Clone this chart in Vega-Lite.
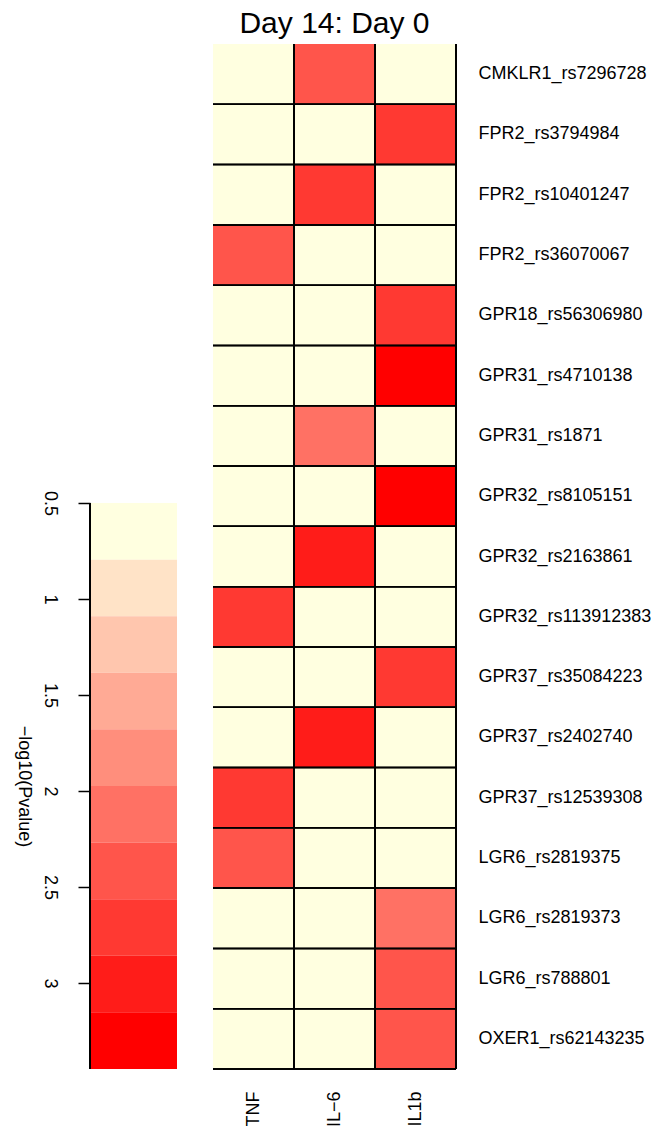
{
  "$schema": "https://vega.github.io/schema/vega-lite/v6.json",
  "padding": {"left": 14, "top": 9, "right": 0, "bottom": 5},
  "config": {"view": {"stroke": null}, "font": "Liberation Sans"},
  "spacing": 36,
  "bounds": "flush",
  "resolve": {"scale": {"color": "independent"}},
  "hconcat": [
    {
      "width": 87,
      "height": 1025,
      "data": {"values": [
        {"lo": 0.5, "hi": 0.795},
        {"lo": 0.795, "hi": 1.09},
        {"lo": 1.09, "hi": 1.384},
        {"lo": 1.384, "hi": 1.679},
        {"lo": 1.679, "hi": 1.974},
        {"lo": 1.974, "hi": 2.269},
        {"lo": 2.269, "hi": 2.564},
        {"lo": 2.564, "hi": 2.858},
        {"lo": 2.858, "hi": 3.153},
        {"lo": 3.153, "hi": 3.448}
      ]},
      "layer": [
        {
          "mark": {"type": "rect"},
          "encoding": {
            "x": {"datum": 0, "type": "quantitative", "scale": {"domain": [0, 1], "nice": false, "zero": false}, "axis": null},
            "x2": {"datum": 1},
            "y": {"field": "lo", "type": "quantitative",
                  "scale": {"domain": [-1.8906, 3.448], "reverse": true, "nice": false, "zero": false},
                  "axis": {"orient": "left", "values": [0.5, 1, 1.5, 2, 2.5, 3], "format": "~g", "domain": false, "grid": false,
                           "ticks": true, "tickSize": 12, "tickColor": "black", "tickWidth": 1.5,
                           "labelAngle": 90, "labelAlign": "center", "labelBaseline": "top", "labelPadding": 20,
                           "labelFontSize": 18, "labelColor": "black",
                           "title": "−log10(Pvalue)", "titleAngle": 90, "titleFontSize": 18, "titleFontWeight": "normal",
                           "titleColor": "black", "titleAlign": "center", "titleBaseline": "middle",
                           "titleX": -67, "titleY": 742}},
            "y2": {"field": "hi"},
            "color": {"field": "lo", "type": "quantitative",
                      "scale": {"type": "threshold", "domain": [0.795, 1.09, 1.384, 1.679, 1.974, 2.269, 2.564, 2.858, 3.153],
                                "range": ["#FFFFE0", "#FFE3C7", "#FFC6AE", "#FFAA95", "#FF8E7C", "#FF7164", "#FF554B", "#FF3932", "#FF1C19", "#FF0000"]},
                      "legend": null}
          }
        },
        {
          "mark": {"type": "rule", "color": "black", "strokeWidth": 1.5},
          "encoding": {
            "x": {"datum": 0, "type": "quantitative"},
            "y": {"datum": 0.5, "type": "quantitative"},
            "y2": {"datum": 3.448}
          }
        }
      ]
    },
    {
      "width": 243,
      "height": 1025,
      "title": {"text": "Day 14: Day 0", "fontSize": 30, "fontWeight": "normal", "color": "black", "offset": 4, "anchor": "middle"},
      "data": {"values": [
        {"snp": "CMKLR1_rs7296728", "cytokine": "TNF", "value": 0.6},
        {"snp": "CMKLR1_rs7296728", "cytokine": "IL−6", "value": 2.42},
        {"snp": "CMKLR1_rs7296728", "cytokine": "IL1b", "value": 0.6},
        {"snp": "FPR2_rs3794984", "cytokine": "TNF", "value": 0.6},
        {"snp": "FPR2_rs3794984", "cytokine": "IL−6", "value": 0.6},
        {"snp": "FPR2_rs3794984", "cytokine": "IL1b", "value": 2.71},
        {"snp": "FPR2_rs10401247", "cytokine": "TNF", "value": 0.6},
        {"snp": "FPR2_rs10401247", "cytokine": "IL−6", "value": 2.71},
        {"snp": "FPR2_rs10401247", "cytokine": "IL1b", "value": 0.6},
        {"snp": "FPR2_rs36070067", "cytokine": "TNF", "value": 2.42},
        {"snp": "FPR2_rs36070067", "cytokine": "IL−6", "value": 0.6},
        {"snp": "FPR2_rs36070067", "cytokine": "IL1b", "value": 0.6},
        {"snp": "GPR18_rs56306980", "cytokine": "TNF", "value": 0.6},
        {"snp": "GPR18_rs56306980", "cytokine": "IL−6", "value": 0.6},
        {"snp": "GPR18_rs56306980", "cytokine": "IL1b", "value": 2.71},
        {"snp": "GPR31_rs4710138", "cytokine": "TNF", "value": 0.6},
        {"snp": "GPR31_rs4710138", "cytokine": "IL−6", "value": 0.6},
        {"snp": "GPR31_rs4710138", "cytokine": "IL1b", "value": 3.3},
        {"snp": "GPR31_rs1871", "cytokine": "TNF", "value": 0.6},
        {"snp": "GPR31_rs1871", "cytokine": "IL−6", "value": 2.12},
        {"snp": "GPR31_rs1871", "cytokine": "IL1b", "value": 0.6},
        {"snp": "GPR32_rs8105151", "cytokine": "TNF", "value": 0.6},
        {"snp": "GPR32_rs8105151", "cytokine": "IL−6", "value": 0.6},
        {"snp": "GPR32_rs8105151", "cytokine": "IL1b", "value": 3.3},
        {"snp": "GPR32_rs2163861", "cytokine": "TNF", "value": 0.6},
        {"snp": "GPR32_rs2163861", "cytokine": "IL−6", "value": 3.0},
        {"snp": "GPR32_rs2163861", "cytokine": "IL1b", "value": 0.6},
        {"snp": "GPR32_rs113912383", "cytokine": "TNF", "value": 2.71},
        {"snp": "GPR32_rs113912383", "cytokine": "IL−6", "value": 0.6},
        {"snp": "GPR32_rs113912383", "cytokine": "IL1b", "value": 0.6},
        {"snp": "GPR37_rs35084223", "cytokine": "TNF", "value": 0.6},
        {"snp": "GPR37_rs35084223", "cytokine": "IL−6", "value": 0.6},
        {"snp": "GPR37_rs35084223", "cytokine": "IL1b", "value": 2.71},
        {"snp": "GPR37_rs2402740", "cytokine": "TNF", "value": 0.6},
        {"snp": "GPR37_rs2402740", "cytokine": "IL−6", "value": 3.0},
        {"snp": "GPR37_rs2402740", "cytokine": "IL1b", "value": 0.6},
        {"snp": "GPR37_rs12539308", "cytokine": "TNF", "value": 2.71},
        {"snp": "GPR37_rs12539308", "cytokine": "IL−6", "value": 0.6},
        {"snp": "GPR37_rs12539308", "cytokine": "IL1b", "value": 0.6},
        {"snp": "LGR6_rs2819375", "cytokine": "TNF", "value": 2.42},
        {"snp": "LGR6_rs2819375", "cytokine": "IL−6", "value": 0.6},
        {"snp": "LGR6_rs2819375", "cytokine": "IL1b", "value": 0.6},
        {"snp": "LGR6_rs2819373", "cytokine": "TNF", "value": 0.6},
        {"snp": "LGR6_rs2819373", "cytokine": "IL−6", "value": 0.6},
        {"snp": "LGR6_rs2819373", "cytokine": "IL1b", "value": 2.12},
        {"snp": "LGR6_rs788801", "cytokine": "TNF", "value": 0.6},
        {"snp": "LGR6_rs788801", "cytokine": "IL−6", "value": 0.6},
        {"snp": "LGR6_rs788801", "cytokine": "IL1b", "value": 2.42},
        {"snp": "OXER1_rs62143235", "cytokine": "TNF", "value": 0.6},
        {"snp": "OXER1_rs62143235", "cytokine": "IL−6", "value": 0.6},
        {"snp": "OXER1_rs62143235", "cytokine": "IL1b", "value": 2.42}
      ]},
      "layer": [
        {
          "mark": {"type": "rect"},
          "encoding": {
            "x": {"field": "cytokine", "type": "nominal",
                  "scale": {"domain": ["TNF", "IL−6", "IL1b"], "paddingInner": 0, "paddingOuter": 0},
                  "axis": {"orient": "bottom", "title": null, "domain": false, "ticks": false, "labelAngle": 270,
                           "labelPadding": 22, "labelFontSize": 18, "labelColor": "black"}},
            "y": {"field": "snp", "type": "nominal",
                  "scale": {"domain": ["CMKLR1_rs7296728", "FPR2_rs3794984", "FPR2_rs10401247", "FPR2_rs36070067", "GPR18_rs56306980", "GPR31_rs4710138", "GPR31_rs1871", "GPR32_rs8105151", "GPR32_rs2163861", "GPR32_rs113912383", "GPR37_rs35084223", "GPR37_rs2402740", "GPR37_rs12539308", "LGR6_rs2819375", "LGR6_rs2819373", "LGR6_rs788801", "OXER1_rs62143235"],
                            "paddingInner": 0, "paddingOuter": 0},
                  "axis": {"orient": "right", "title": null, "domain": false, "ticks": false, "labelPadding": 22,
                           "labelFontSize": 18, "labelColor": "black", "labelLimit": 300}},
            "color": {"field": "value", "type": "quantitative",
                      "scale": {"type": "threshold", "domain": [0.795, 1.09, 1.384, 1.679, 1.974, 2.269, 2.564, 2.858, 3.153],
                                "range": ["#FFFFE0", "#FFE3C7", "#FFC6AE", "#FFAA95", "#FF8E7C", "#FF7164", "#FF554B", "#FF3932", "#FF1C19", "#FF0000"]},
                      "legend": null}
          }
        },
        {
          "mark": {"type": "rule", "color": "black", "strokeWidth": 1.5},
          "encoding": {"x": {"field": "cytokine", "type": "nominal", "bandPosition": 1}}
        },
        {
          "mark": {"type": "rule", "color": "black", "strokeWidth": 1.5},
          "encoding": {"y": {"field": "snp", "type": "nominal", "bandPosition": 1}}
        }
      ]
    }
  ]
}
